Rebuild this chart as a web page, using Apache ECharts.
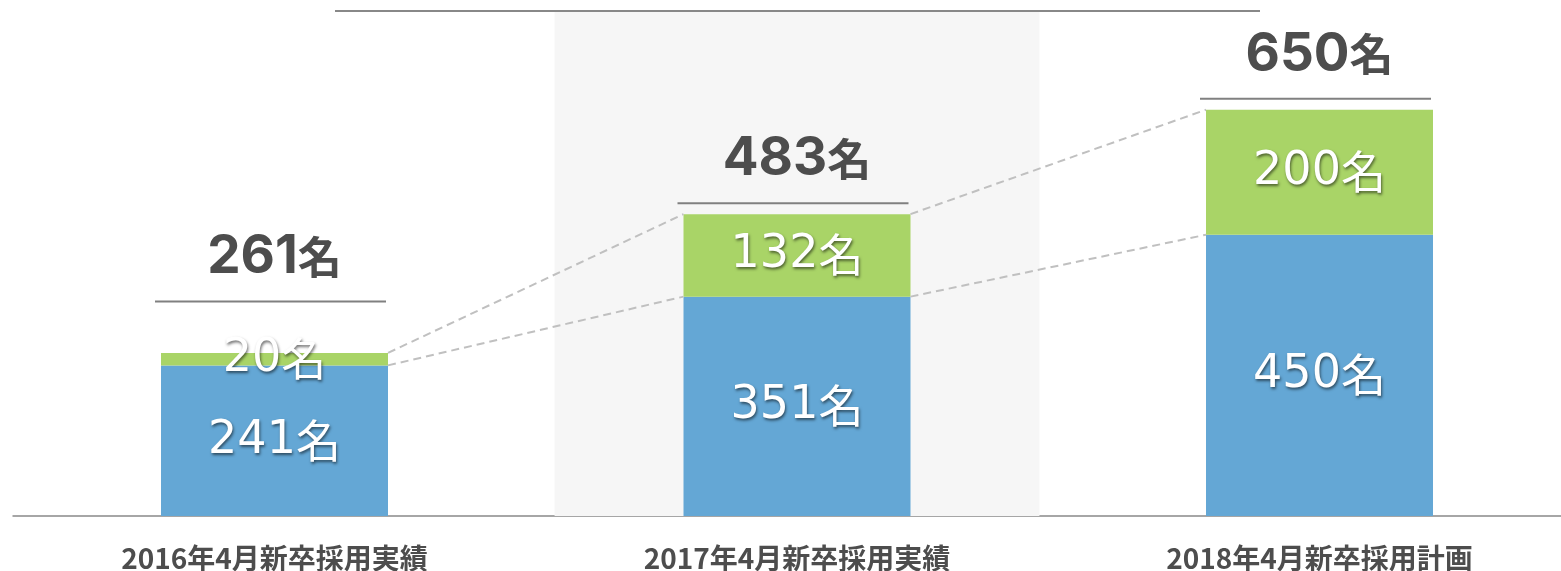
<!DOCTYPE html>
<html>
<head>
<meta charset="utf-8">
<script src="https://cdn.jsdelivr.net/npm/echarts@6/dist/echarts.min.js"></script>
<style>
  html, body { margin: 0; padding: 0; background: #fff; }
  #chart { width: 1561px; height: 571px; }
</style>
</head>
<body>
<div id="chart"></div>
<script>
// chart data
const categories = ['2016年4月新卒採用実績', '2017年4月新卒採用実績', '2018年4月新卒採用計画']
const blueValues = [241, 351, 450]
const greenValues = [20, 132, 200]
const totals = [261, 483, 650]
const highlighted = [false, true, false]

const BAR_RATIO = 227 / 522.5
const Y_MAX = 808

const chart = echarts.init(document.getElementById('chart'))

const shadow = {
  textShadowColor: 'rgba(0,0,0,0.55)',
  textShadowBlur: 3,
  textShadowOffsetX: 1,
  textShadowOffsetY: 2
}

const innerLabel = {
  show: true,
  position: 'inside',
  formatter: '{n|{c}}{u|名}',
  color: '#fff',
  fontFamily: '"DejaVu Sans", sans-serif',
  fontSize: 46,
  ...shadow,
  rich: {
    n: { fontFamily: '"DejaVu Sans", sans-serif', fontSize: 46, color: '#fff', ...shadow },
    u: { fontFamily: '"Noto Sans CJK JP", sans-serif', fontSize: 45, color: '#fff', ...shadow }
  }
}

// highlighted background band
const renderBand = (params, api) => {
  const i = api.value(0)
  const bandW = api.size([1, 0])[0]
  const top = api.coord([i, Y_MAX])
  const bottom = api.coord([i, 0])
  const w = bandW * 0.928
  return {
    type: 'rect',
    shape: { x: top[0] - w / 2, y: top[1], width: w, height: bottom[1] - top[1] },
    style: { fill: '#f6f6f6' }
  }
}

// total label, line above bar, dashed connectors
const renderTotals = (params, api) => {
  const i = api.value(0)
  const bandW = api.size([1, 0])[0]
  const half = bandW * BAR_RATIO / 2
  const top = api.coord([i, totals[i]])
  const blueTop = api.coord([i, blueValues[i]])
  // keep the line clear of the inner label when the green part is thin
  const lineY = Math.min(top[1] - 11, blueTop[1] - 64)
  const children = [
    {
      type: 'line',
      shape: { x1: top[0] - half - 6, y1: lineY, x2: top[0] + half - 2, y2: lineY },
      style: { stroke: '#808080', lineWidth: 2 }
    },
    {
      type: 'text',
      style: {
        x: top[0], y: lineY - 44,
        text: '{n|' + totals[i] + '}{u|名}',
        align: 'center', verticalAlign: 'middle',
        rich: {
          n: { fontFamily: 'Inter', fontWeight: 'bold', fontSize: 53, fill: '#4d4d4d' },
          u: { fontFamily: 'Noto Sans CJK JP', fontWeight: 'bold', fontSize: 44, fill: '#4d4d4d' }
        }
      }
    }
  ]
  if (i < categories.length - 1) {
    const nextTop = api.coord([i + 1, totals[i + 1]])
    const nextBlue = api.coord([i + 1, blueValues[i + 1]])
    const dash = { stroke: '#c0c0c0', lineWidth: 2, lineDash: [8, 5] }
    children.push({
      type: 'line',
      shape: { x1: top[0] + half, y1: top[1], x2: nextTop[0] - half, y2: nextTop[1] },
      style: dash
    })
    children.push({
      type: 'line',
      shape: { x1: blueTop[0] + half, y1: blueTop[1], x2: nextBlue[0] - half, y2: nextBlue[1] },
      style: dash
    })
  }
  return { type: 'group', children }
}

const option = {
  animation: false,
  grid: { left: 13.25, width: 1567.5, top: 11, bottom: 55, outerBoundsMode: 'none', containLabel: false },
  graphic: [
    {
      type: 'line',
      shape: { x1: 335, y1: 11, x2: 1260, y2: 11 },
      style: { stroke: '#888', lineWidth: 2 },
      z: 10
    }
  ],
  xAxis: {
    type: 'category',
    data: categories,
    axisTick: { show: false },
    axisLine: { lineStyle: { color: '#a6a6a6', width: 2 } },
    axisLabel: {
      margin: 28,
      fontSize: 28,
      fontWeight: 'bold',
      fontFamily: 'Noto Sans CJK JP',
      color: '#4d4d4d'
    }
  },
  yAxis: {
    type: 'value',
    min: 0,
    max: Y_MAX,
    show: false,
    splitLine: { show: false }
  },
  series: [
    {
      type: 'custom',
      z: 1,
      silent: true,
      renderItem: renderBand,
      data: highlighted.map((h, i) => (h ? [i] : null)).filter((d) => d)
    },
    {
      name: 'blue',
      type: 'bar',
      stack: 'total',
      z: 2,
      barWidth: (BAR_RATIO * 100) + '%',
      data: blueValues,
      itemStyle: { color: '#64a7d5' },
      label: innerLabel
    },
    {
      name: 'green',
      type: 'bar',
      stack: 'total',
      z: 2,
      data: greenValues,
      itemStyle: { color: '#a9d467' },
      label: innerLabel
    },
    {
      type: 'custom',
      z: 3,
      silent: true,
      renderItem: renderTotals,
      data: categories.map((c, i) => [i])
    }
  ]
}

chart.setOption(option)
</script>
</body>
</html>
